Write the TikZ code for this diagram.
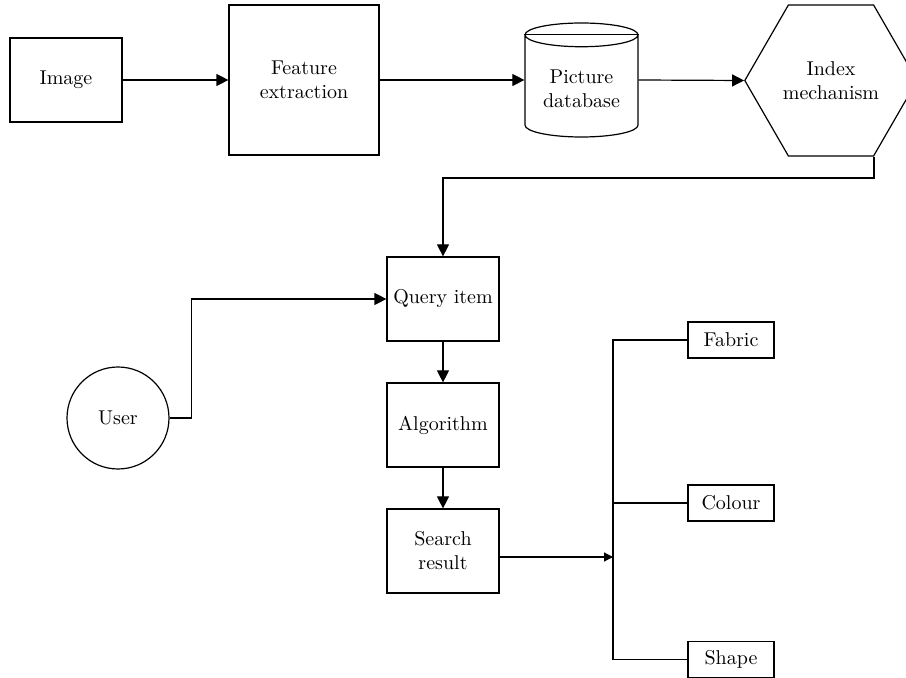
\documentclass[tikz,border=0pt]{standalone}
\usepackage{tikz}
\usetikzlibrary{shapes, shapes.geometric, shapes.symbols, arrows.meta, positioning, calc}

\begin{document}
\begin{tikzpicture}[
  x=0.5pt, y=-0.5pt,
  line width=0.6pt,
  nbox/.style={draw, align=center, inner sep=2pt, minimum width=56pt, minimum height=42pt},
  tbox/.style={draw, align=center, inner sep=2pt, minimum width=43pt, minimum height=18pt},
  arr/.style={-{Triangle[length=6pt, width=6pt]}},
  sarr/.style={-{Triangle[length=4.5pt, width=4.5pt]}}
]
  \useasboundingbox (0,0) rectangle (906,678);

  % top row
  \node[nbox] (img) at (66, 80) {Image};
  \node[nbox, minimum width=75pt, minimum height=75pt] (feat) at (304, 80) {Feature\\extraction};
  \node[draw, cylinder, shape border rotate=90, aspect=0.28, minimum width=56.5pt, minimum height=57pt, align=center, inner sep=2pt, anchor=shape center] (db) at (581.5, 80) {Picture\\database};
  \node[draw, signal, signal to=west and east, signal pointer angle=120, minimum height=75.5pt, align=center, inner xsep=-2.75pt] (idx) at (831, 80.5) {Index\\mechanism};
  \draw (db.before top) -- (db.after top);

  % query chain
  \node[nbox] (query) at (443, 299) {Query item};
  \node[nbox] (algo) at (443, 425) {Algorithm};
  \node[nbox] (search) at (443, 551) {Search\\result};
  \node[draw, circle, minimum size=51pt, inner sep=1pt] (user) at (118, 418) {User};

  % attributes
  \node[tbox] (fabric) at (731, 340) {Fabric};
  \node[tbox] (colour) at (731, 503) {Colour};
  \node[tbox] (shape) at (731, 659.5) {Shape};

  \coordinate (bend) at (874, 178);
  \coordinate (bus) at (613, 557);

  \draw[arr] (img) -- (feat);
  \draw[arr] (feat) -- (db.west |- feat);
  \draw[arr] (db.east |- feat) -- (idx.west);
  \draw[arr] (idx.south -| bend) -- (bend) -| (query.north);
  \draw[arr] (user.east) -- ++(22, 0) |- (query.west);
  \draw[arr] (query) -- (algo);
  \draw[arr] (algo) -- (search);
  \draw[sarr] (search.east |- bus) -- (bus);
  \draw (fabric.west) -| (bus);
  \draw (shape.west) -| (bus);
  \draw (colour.west) -- (colour.west -| bus);
\end{tikzpicture}
\end{document}
